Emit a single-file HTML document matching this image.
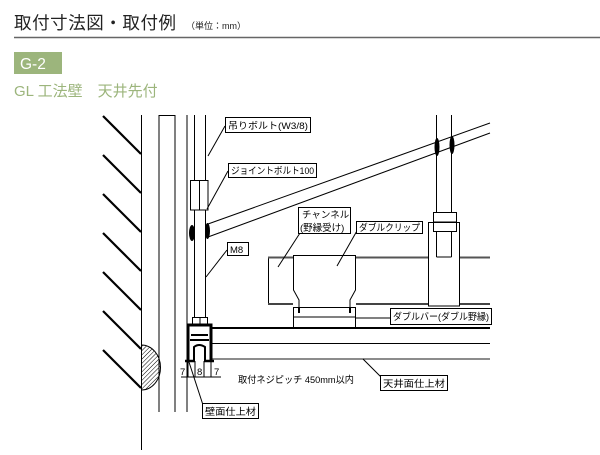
<!DOCTYPE html>
<html><head><meta charset="utf-8"><style>
body{margin:0;background:#fff;width:600px;height:450px;overflow:hidden;font-family:"Liberation Sans","Noto Sans CJK JP",sans-serif}
</style></head><body>
<svg width="600" height="450" viewBox="0 0 600 450" xmlns="http://www.w3.org/2000/svg" font-family="Liberation Sans, Noto Sans CJK JP, sans-serif">
<defs><pattern id="h" width="3" height="3" patternUnits="userSpaceOnUse" patternTransform="rotate(45)"><line x1="0" y1="0" x2="0" y2="3" stroke="#000" stroke-width="1"/></pattern></defs>
<text x="14" y="29" font-size="17.5" fill="#222" textLength="162" lengthAdjust="spacing">取付寸法図・取付例</text>
<text x="186" y="29" font-size="9" fill="#222">（単位：mm）</text>
<line x1="14" y1="37.5" x2="600" y2="37.5" stroke="#666" stroke-width="1.5"/>
<rect x="14" y="52" width="48" height="22" fill="#9cb57c"/>
<text x="20" y="69" font-size="15.5" fill="#fff">G-2</text>
<text x="14" y="96" font-size="15" fill="#9cb57c">GL 工法壁　天井先付</text>
<g stroke="#000" fill="none" stroke-width="1">
<g stroke-width="2.2">
<line x1="103" y1="116" x2="141" y2="154"/><line x1="103" y1="155" x2="141" y2="193"/><line x1="103" y1="194" x2="141" y2="232"/><line x1="103" y1="233" x2="141" y2="271"/><line x1="103" y1="272" x2="141" y2="310"/><line x1="103" y1="311" x2="141" y2="349"/><line x1="103" y1="350" x2="141" y2="388"/>
</g>
<line x1="141.5" y1="115" x2="141.5" y2="450"/>
<path d="M159 412V115.5H175M175 115V412M187 115V412"/>
<path d="M141.5 345 A19 22.5 0 0 1 141.5 390Z" fill="url(#h)"/>
<path d="M194.5 115V317M205.5 115V317"/>
<rect x="190.5" y="180.5" width="17.5" height="29.5" fill="#fff"/>
<line x1="199.5" y1="180" x2="199.5" y2="210"/>
<ellipse cx="192" cy="233" rx="3" ry="8" fill="#000" stroke="none"/>
<ellipse cx="207.5" cy="231" rx="2.5" ry="8" fill="#000" stroke="none"/>
<path d="M208 224L490 123M208 237L490 133"/>
<path d="M436.5 115V257M451.5 115V257M436.5 257H451.5"/>
<ellipse cx="437" cy="147" rx="2.5" ry="9" fill="#000" stroke="none"/>
<ellipse cx="452" cy="145" rx="2.5" ry="9" fill="#000" stroke="none"/>
<rect x="433.5" y="212.5" width="23" height="19" fill="#fff"/>
<line x1="433" y1="222" x2="457" y2="222"/>
<rect x="428.5" y="222.5" width="31" height="83.5"/>
<line x1="436.5" y1="232" x2="436.5" y2="257"/><line x1="451.5" y1="232" x2="451.5" y2="257"/>
<path d="M268.5 257.5V303.5"/>
<path d="M268 257.5H293M356 257.5H428M460 257.5H490" stroke="#555" stroke-width="2"/>
<path d="M268 304H293M356 304H428M460 304H490" stroke="#444" stroke-width="2"/>
<path d="M293.5 255V290L299 300V307M355.5 255V290L350 300V307M293 255.5H356"/>
<path d="M299 307v6M350 307v6" stroke-width="2"/>
<rect x="293.5" y="307.5" width="62" height="20.5"/>
<line x1="293" y1="317" x2="356" y2="317"/>
<line x1="211" y1="328" x2="490" y2="328" stroke-width="2"/>
<line x1="211" y1="343.5" x2="490" y2="343.5"/>
<line x1="211" y1="359" x2="490" y2="359" stroke="#666" stroke-width="1.5"/>
<rect x="192.5" y="317.5" width="15" height="7" fill="#fff"/>
<line x1="200" y1="317" x2="200" y2="324"/>
<path d="M188 361V325H211V361" stroke-width="3"/>
<path d="M185 361H195M204 361H214" stroke-width="2.5"/>
<path d="M190 340H209M191 335H208" stroke-width="2"/>
<path d="M194 361V347Q199 343 205 347V361" stroke-width="2"/>
<path d="M195 361V377M204 361V377M188 361V377M211 361V377"/>
<line x1="181" y1="377" x2="221" y2="377"/>
<path d="M208 156L225 126M207 209L228 171M206 277L227 250M278 267L300 233M337 266L358 229M356 318H390M363 359L381 377M187 356L203 405"/>
<rect x="225.5" y="117.5" width="85" height="15" fill="#fff"/>
<rect x="228.5" y="163.5" width="88" height="14" fill="#fff"/>
<rect x="227.5" y="242.5" width="21" height="13" fill="#fff"/>
<rect x="298.5" y="207.5" width="52" height="26" fill="#fff"/>
<rect x="356.5" y="221.5" width="66" height="12" fill="#fff"/>
<rect x="390.5" y="308.5" width="101" height="16" fill="#fff"/>
<rect x="380.5" y="375.5" width="67" height="15" fill="#fff"/>
<rect x="202.5" y="403.5" width="56" height="15" fill="#fff"/>
</g>
<g font-size="9.5" fill="#000">
<text x="228" y="129" textLength="80" lengthAdjust="spacingAndGlyphs">吊りボルト(W3/8)</text>
<text x="231" y="174" textLength="83" lengthAdjust="spacingAndGlyphs">ジョイントボルト100</text>
<text x="230" y="253">M8</text>
<text x="302" y="218">チャンネル</text>
<text x="300" y="231">(野縁受け)</text>
<text x="359" y="231" textLength="61" lengthAdjust="spacingAndGlyphs">ダブルクリップ</text>
<text x="393" y="320" textLength="96" lengthAdjust="spacingAndGlyphs">ダブルバー(ダブル野縁)</text>
<text x="383" y="387" textLength="62" lengthAdjust="spacingAndGlyphs">天井面仕上材</text>
<text x="205" y="415" textLength="51" lengthAdjust="spacingAndGlyphs">壁面仕上材</text>
<text x="238" y="383" textLength="116" lengthAdjust="spacingAndGlyphs">取付ネジピッチ 450mm以内</text>
<text x="180" y="375">7</text><text x="197" y="375">8</text><text x="214" y="375">7</text>
</g>
</svg>
</body></html>
